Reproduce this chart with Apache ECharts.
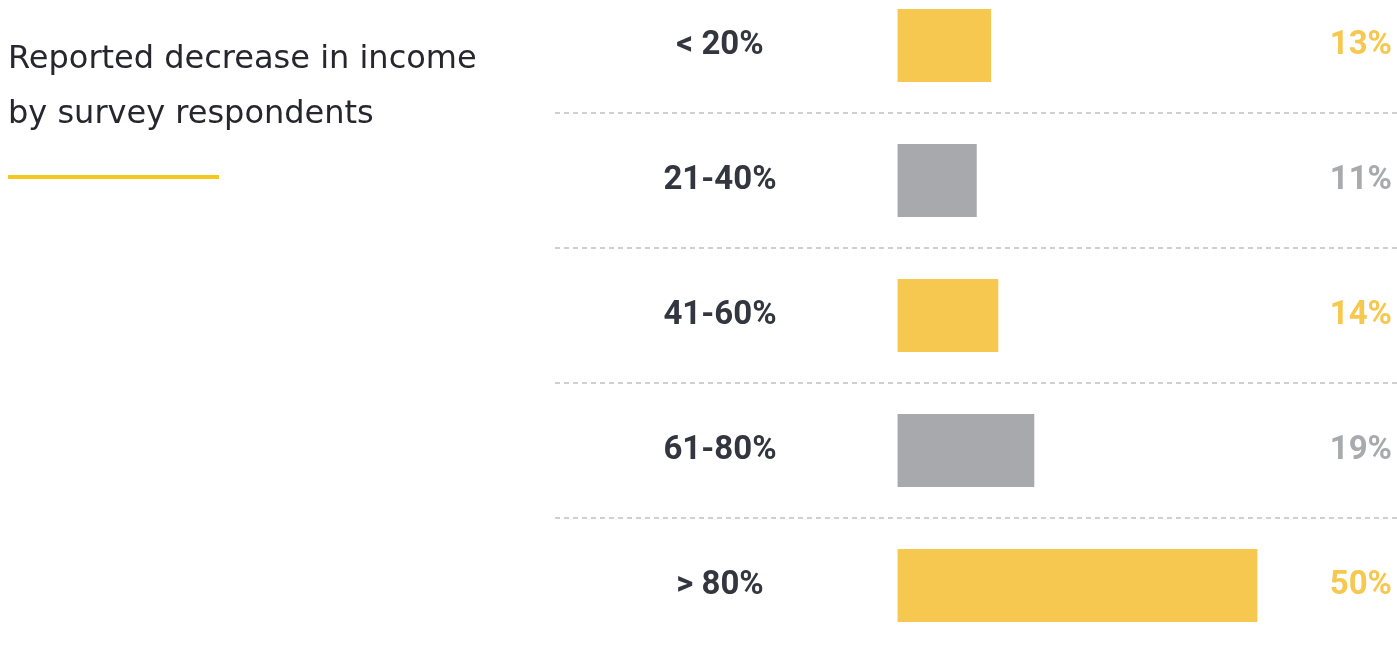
<!DOCTYPE html>
<html>
<head>
<meta charset="utf-8">
<script src="https://cdn.jsdelivr.net/npm/echarts@6/dist/echarts.min.js"></script>
<style>
html,body{margin:0;padding:0;background:#fff;}
#chart{width:1397px;height:651px;}
</style>
</head>
<body>
<div id="chart"></div>
<script>
const categories = ['< 20%', '21-40%', '41-60%', '61-80%', '> 80%'];
const values = [13, 11, 14, 19, 50];
const valueLabels = ['13%', '11%', '14%', '19%', '50%'];
const barColors = ['#f6c84f', '#a8a9ac', '#f6c84f', '#a8a9ac', '#f6c84f'];
const labelColors = ['#f6c84f', '#a9aaae', '#f6c84f', '#a9aaae', '#f6c84f'];
const titleLines = ['Reported decrease in income', 'by survey respondents'];

const FONT = 'Roboto, "DejaVu Sans", sans-serif';
const TFONT = '"DejaVu Sans", sans-serif';
const chart = echarts.init(document.getElementById('chart'), null, {renderer: 'canvas'});

chart.setOption({
  animation: false,
  backgroundColor: '#ffffff',
  grid: {left: 555, right: 0, top: -22, height: 675, containLabel: false, outerBoundsMode: 'none'},
  xAxis: {
    type: 'value', min: -47.6, max: 69.4,
    show: false, splitLine: {show: false}
  },
  yAxis: [{
    type: 'category', data: categories, inverse: true, position: 'left',
    axisLine: {show: false}, axisTick: {show: false},
    axisLabel: {
      align: 'center', margin: -165,
      fontFamily: FONT, fontWeight: 'bold', fontSize: 33, color: '#33353f'
    },
    splitLine: {show: true, lineStyle: {color: '#d0d0d0', width: 2, type: [5, 4]}}
  }, {
    type: 'category', data: valueLabels, inverse: true, position: 'right',
    axisLine: {show: false}, axisTick: {show: false}, splitLine: {show: false},
    axisLabel: {
      inside: true, margin: 5,
      fontFamily: FONT, fontWeight: 'bold', fontSize: 33,
      color: function (v, i) { return labelColors[i]; }
    }
  }],
  series: [{
    type: 'bar', yAxisIndex: 0, barWidth: 73,
    data: values.map((v, i) => ({value: v, itemStyle: {color: barColors[i]}})),
    silent: true
  }],
  graphic: [
    {type: 'text', left: 8, top: 44, style: {text: titleLines[0], font: '400 32px ' + TFONT, fill: '#26262e'}},
    {type: 'text', left: 8, top: 99, style: {text: titleLines[1], font: '400 32px ' + TFONT, fill: '#26262e'}},
    {type: 'rect', shape: {x: 8, y: 175, width: 211, height: 4}, style: {fill: '#f4c81c'}}
  ]
});
</script>
</body>
</html>
